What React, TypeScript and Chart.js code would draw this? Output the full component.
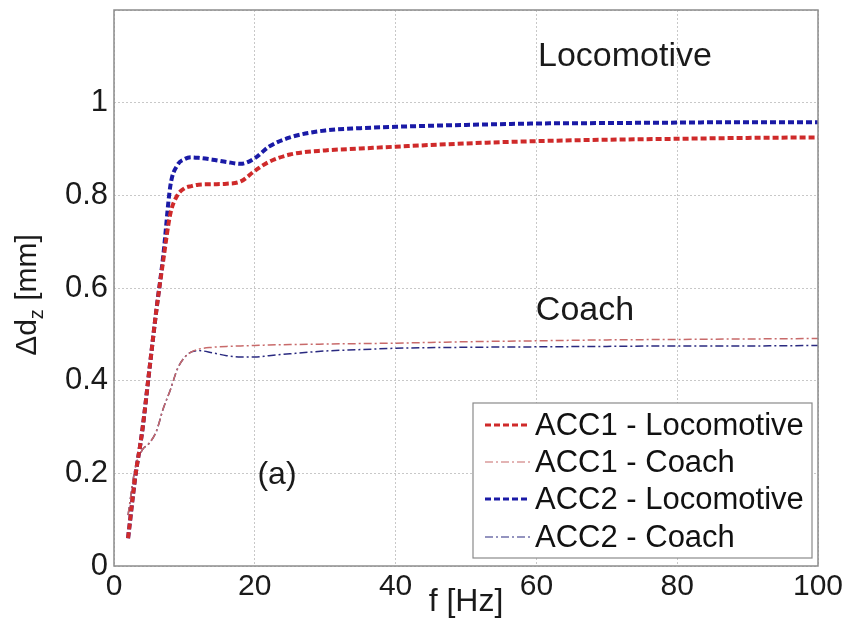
import React, { useEffect, useRef } from "react";
import { Chart, registerables } from "chart.js";

Chart.register(...registerables);

const freq = [2, 3, 4, 5, 6, 7, 8, 9, 10, 11, 12, 14, 16, 18, 20, 22, 25, 30, 35, 40, 50, 60, 70, 80, 90, 100];
const acc1Loco = [0.06, 0.19, 0.29, 0.42, 0.55, 0.66, 0.76, 0.8, 0.815, 0.82, 0.823, 0.824, 0.825, 0.83, 0.853, 0.872, 0.888, 0.897, 0.901, 0.905, 0.912, 0.917, 0.92, 0.922, 0.924, 0.925];
const acc1Coach = [0.11, 0.21, 0.25, 0.265, 0.29, 0.34, 0.38, 0.425, 0.45, 0.462, 0.468, 0.472, 0.474, 0.475, 0.476, 0.477, 0.478, 0.479, 0.48, 0.481, 0.484, 0.486, 0.488, 0.489, 0.49, 0.491];
const acc2Loco = [0.06, 0.19, 0.29, 0.42, 0.55, 0.67, 0.82, 0.865, 0.878, 0.882, 0.881, 0.877, 0.872, 0.868, 0.88, 0.905, 0.925, 0.94, 0.945, 0.948, 0.952, 0.955, 0.956, 0.957, 0.958, 0.958];
const acc2Coach = [0.11, 0.21, 0.25, 0.265, 0.29, 0.34, 0.38, 0.425, 0.45, 0.462, 0.465, 0.46, 0.454, 0.451, 0.451, 0.454, 0.458, 0.464, 0.467, 0.47, 0.472, 0.473, 0.474, 0.475, 0.475, 0.476];

const xTicks = [0, 20, 40, 60, 80, 100];
const yTicks = [0, 0.2, 0.4, 0.6, 0.8, 1];
const seriesLabels = ["ACC1 - Locomotive", "ACC1 - Coach", "ACC2 - Locomotive", "ACC2 - Coach"];

const FONT = "'Liberation Sans', Arial, Helvetica, sans-serif";

const styles = [
  { color: "#cf2a2a", width: 4, dash: [6, 3] },
  { color: "#c86a6a", width: 1.5, dash: [8, 3, 2, 3] },
  { color: "#1a1aa6", width: 4, dash: [6, 3] },
  { color: "#2a2a80", width: 1.5, dash: [8, 3, 2, 3] },
];

export default function App() {
  const ref = useRef<HTMLCanvasElement>(null);
  useEffect(() => {
    const canvas = ref.current!;
    const series = [acc1Loco, acc1Coach, acc2Loco, acc2Coach];
    const overlay = {
      id: "overlay",
      afterDraw(chart: any) {
        const ctx = chart.ctx as CanvasRenderingContext2D;
        const a = chart.chartArea;
        ctx.save();
        // frame
        ctx.strokeStyle = "#8c8c8c";
        ctx.lineWidth = 1.5;
        ctx.setLineDash([]);
        ctx.strokeRect(a.left, a.top, a.right - a.left, a.bottom - a.top);
        // annotations
        ctx.fillStyle = "#1a1a1a";
        ctx.font = `34px ${FONT}`;
        ctx.textBaseline = "middle";
        ctx.textAlign = "left";
        ctx.fillText("Locomotive", 538, 57);
        ctx.textAlign = "center";
        ctx.fillText("Coach", 585, 311);
        ctx.font = `32px ${FONT}`;
        ctx.fillText("(a)", 277, 475);
        // y title with subscript
        ctx.save();
        ctx.translate(28, 295);
        ctx.rotate(-Math.PI / 2);
        ctx.textAlign = "left";
        ctx.textBaseline = "middle";
        const big = `30px ${FONT}`;
        const small = `20px ${FONT}`;
        ctx.font = big;
        const w1 = ctx.measureText("\u0394d").width;
        ctx.font = small;
        const w2 = ctx.measureText("z").width;
        ctx.font = big;
        const w3 = ctx.measureText(" [mm]").width;
        const total = w1 + w2 + w3;
        let x0 = -total / 2;
        ctx.fillText("\u0394d", x0, 0);
        x0 += w1;
        ctx.font = small;
        ctx.fillText("z", x0, 9);
        x0 += w2;
        ctx.font = big;
        ctx.fillText(" [mm]", x0, 0);
        ctx.restore();
        // x title
        ctx.font = `32px ${FONT}`;
        ctx.textAlign = "center";
        ctx.textBaseline = "middle";
        ctx.fillText("f [Hz]", (a.left + a.right) / 2, 602);
        // legend
        const lx = 473, ly = 403, lw = 339, lh = 155;
        ctx.fillStyle = "#ffffff";
        ctx.fillRect(lx, ly, lw, lh);
        ctx.strokeStyle = "#8a8a8a";
        ctx.lineWidth = 1.2;
        ctx.strokeRect(lx, ly, lw, lh);
        const rows = [425, 462, 499, 537];
        ctx.font = `31px ${FONT}`;
        ctx.textAlign = "left";
        rows.forEach((ry, i) => {
          const s = styles[i];
          ctx.strokeStyle = s.color;
          ctx.lineWidth = s.width === 4 ? 3 : 1.2;
          ctx.setLineDash(s.dash);
          ctx.beginPath();
          ctx.moveTo(485, ry);
          ctx.lineTo(530, ry);
          ctx.stroke();
          ctx.setLineDash([]);
          ctx.fillStyle = "#111";
          ctx.fillText(seriesLabels[i], 535, ry + 1);
        });
        ctx.restore();
      },
    };
    const chart = new Chart(canvas, {
      type: "line",
      data: {
        datasets: series.map((vals, i) => ({
          label: seriesLabels[i],
          data: freq.map((f, j) => ({ x: f, y: vals[j] })),
          borderColor: styles[i].color,
          borderWidth: styles[i].width,
          borderDash: styles[i].dash,
          pointRadius: 0,
          fill: false,
          cubicInterpolationMode: "monotone",
        })),
      },
      options: {
        responsive: false,
        animation: false,
        layout: { padding: { top: 10, right: 29, left: 0, bottom: 0 } },
        plugins: { legend: { display: false }, tooltip: { enabled: false } },
        scales: {
          x: {
            type: "linear",
            min: 0,
            max: 100,
            afterBuildTicks: (scale: any) => {
              scale.ticks = xTicks.map((v) => ({ value: v }));
            },
            afterFit: (scale: any) => {
              scale.height = 76;
              scale.paddingLeft = 0;
              scale.paddingRight = 0;
            },
            ticks: {
              color: "#1a1a1a",
              font: { family: FONT, size: 30 },
              padding: 3,
              maxRotation: 0,
              autoSkip: false,
            },
            grid: { color: "#c8c8c8", lineWidth: 1, drawTicks: false },
            border: { display: false, dash: [2, 2] },
          },
          y: {
            type: "linear",
            min: 0,
            max: 1.2,
            afterBuildTicks: (scale: any) => {
              scale.ticks = [...yTicks, 1.2].map((v) => ({ value: v }));
            },
            afterFit: (scale: any) => {
              scale.width = 114;
              scale.paddingTop = 0;
              scale.paddingBottom = 0;
            },
            ticks: {
              color: "#1a1a1a",
              font: { family: FONT, size: 31 },
              padding: 6,
              autoSkip: false,
              callback: (v: any) => {
                const n = Math.round(Number(v) * 10) / 10;
                return yTicks.some((t) => Math.abs(t - n) < 1e-6) ? String(n) : "";
              },
            },
            grid: { color: "#c8c8c8", lineWidth: 1, drawTicks: false },
            border: { display: false, dash: [2, 2] },
          },
        },
      },
      plugins: [overlay],
    } as any);
    return () => chart.destroy();
  }, []);
  return (
    <canvas
      ref={ref}
      width={847}
      height={642}
      style={{ position: "fixed", left: 0, top: 0, width: 847, height: 642, background: "#fff" }}
    />
  );
}
